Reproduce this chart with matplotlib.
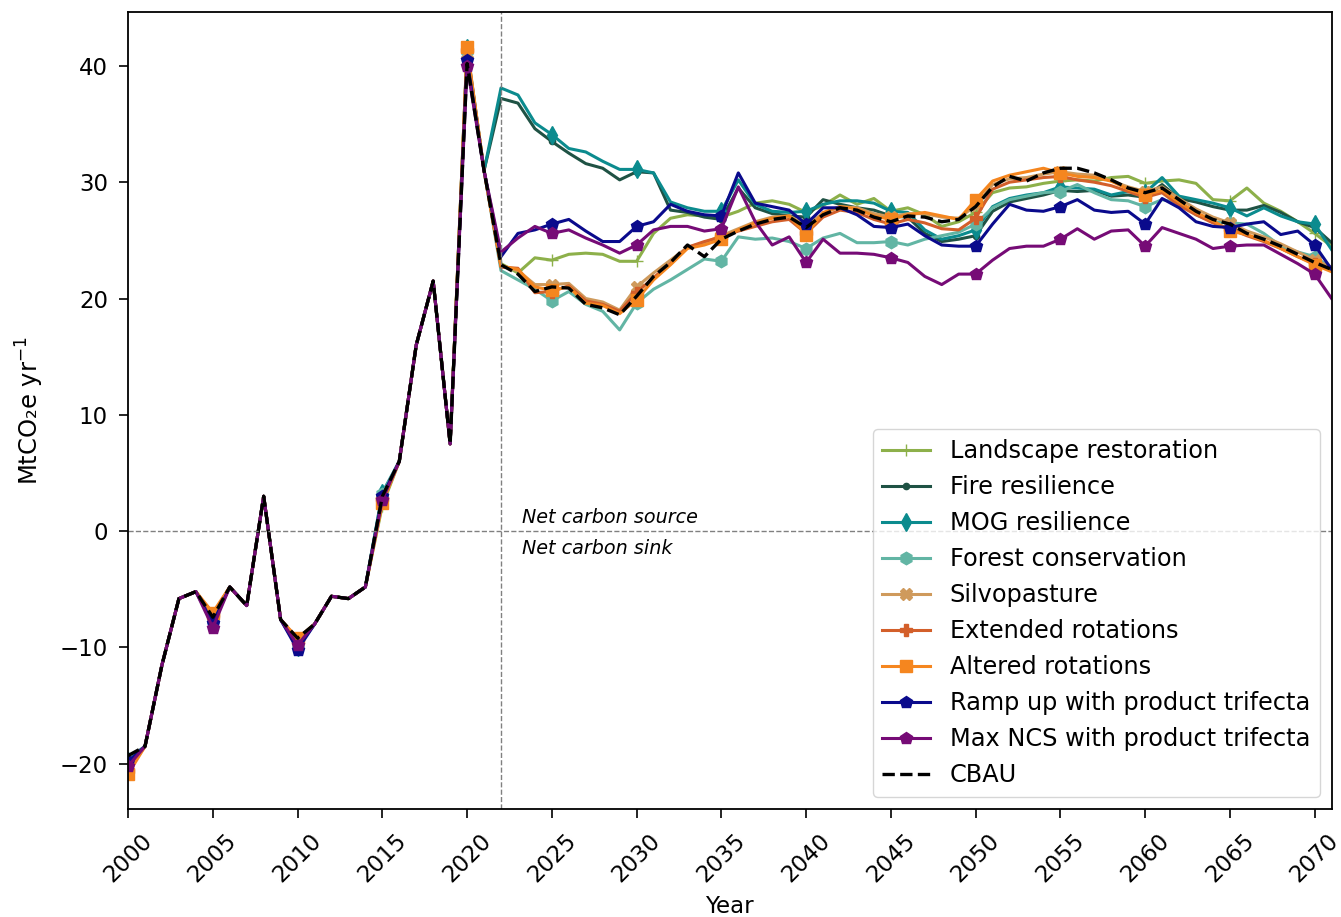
import numpy as np
import matplotlib
matplotlib.use('Agg')
import matplotlib.pyplot as plt

years = list(range(2000, 2072))

# shared history 2000-2021
hist = [-19.5, -18.5, -11.5, -5.8, -5.2, -7.5, -4.8, -6.4, 3.0, -7.6,
        -9.5, -8.0, -5.6, -5.8, -4.8, 3.0, 6.0, 16.0, 21.5, 7.5,
        40.5, 31.0]
# per-series values at 2000, 2005, 2010, 2015, 2020 (where they split a bit)
hist_marks = {
    'Landscape restoration':         [-20.0, -7.6, -9.6, 2.2, 40.8],
    'Fire resilience':               [-19.6, -7.4, -9.4, 3.0, 41.2],
    'MOG resilience':                [-19.8, -7.8, -10.0, 3.3, 41.5],
    'Forest conservation':           [-19.7, -7.6, -9.8, 3.2, 41.3],
    'Silvopasture':                  [-20.3, -7.3, -9.4, 2.6, 41.0],
    'Extended rotations':            [-20.6, -7.2, -9.3, 2.8, 41.4],
    'Altered rotations':             [-20.9, -7.0, -9.2, 2.4, 41.6],
    'Ramp up with product trifecta': [-19.8, -7.9, -10.2, 3.0, 40.5],
    'Max NCS with product trifecta': [-20.2, -8.3, -9.8, 2.7, 40.0],
    'CBAU':                          [-19.3, -7.4, -9.2, 3.0, 40.2],
}

# projections 2022-2071
landscape = [23.0, 22.2, 23.5, 23.3, 23.8, 23.9, 23.8, 23.2, 23.2, 25.6,
             26.9, 27.2, 27.1, 27.0, 27.5, 28.2, 28.4, 28.1, 27.4, 28.0,
             28.9, 28.1, 28.6, 27.5, 27.8, 27.2, 26.2, 26.6, 27.4, 29.1,
             29.5, 29.6, 29.9, 30.1, 30.2, 30.1, 30.4, 30.5, 29.9, 30.1,
             30.2, 29.9, 28.5, 28.4, 29.5, 28.2, 27.5, 26.6, 25.6, 24.5]
fire = [37.2, 36.8, 34.6, 33.5, 32.5, 31.6, 31.2, 30.2, 30.9, 30.8,
        27.6, 27.4, 27.0, 26.8, 29.5, 27.8, 27.3, 27.1, 27.0, 28.5,
        28.1, 27.8, 27.6, 27.1, 27.0, 25.6, 24.9, 25.1, 25.4, 27.5,
        28.3, 28.6, 28.9, 29.3, 29.2, 29.3, 28.8, 28.9, 28.7, 29.8,
        28.6, 28.3, 27.9, 27.6, 27.6, 28.0, 27.4, 26.6, 26.1, 24.8]
mog = [38.1, 37.5, 35.1, 34.1, 32.9, 32.6, 31.8, 31.1, 31.1, 30.8,
       28.3, 27.8, 27.5, 27.5, 30.2, 28.1, 27.5, 27.4, 27.5, 28.1,
       28.4, 28.4, 28.2, 27.5, 27.4, 25.9, 25.1, 25.4, 25.9, 27.9,
       28.6, 28.9, 29.1, 29.6, 29.5, 29.4, 28.9, 29.2, 29.1, 30.4,
       28.8, 28.5, 28.2, 27.8, 27.1, 27.8, 27.1, 26.6, 26.4, 24.2]
forest = [22.4, 21.6, 20.8, 19.8, 20.6, 19.5, 18.9, 17.3, 19.6, 20.8,
          21.6, 22.5, 23.4, 23.2, 25.3, 25.1, 25.2, 24.9, 24.3, 25.2,
          25.6, 24.8, 24.8, 24.9, 24.6, 25.1, 25.4, 25.7, 26.4, 27.8,
          28.5, 28.8, 29.1, 29.2, 29.8, 29.1, 28.5, 28.4, 27.9, 28.5,
          28.2, 27.2, 26.6, 26.5, 26.4, 25.6, 24.5, 24.0, 23.6, 22.6]
silvo = [22.8, 22.4, 21.2, 21.2, 21.3, 20.0, 19.7, 19.0, 21.0, 22.2,
         23.3, 24.4, 24.8, 25.4, 26.0, 26.6, 27.0, 27.1, 26.3, 27.3,
         27.9, 27.8, 27.3, 27.0, 27.3, 27.3, 27.0, 26.9, 28.0, 29.8,
         30.3, 30.4, 30.7, 30.9, 30.7, 30.6, 30.1, 29.6, 29.2, 29.6,
         28.6, 27.7, 27.0, 26.5, 25.8, 25.3, 24.7, 24.0, 23.3, 22.7]
extended = [22.7, 22.6, 20.5, 20.6, 21.1, 19.8, 19.5, 18.9, 20.5, 21.8,
            23.0, 24.4, 24.9, 25.3, 25.8, 26.2, 26.6, 26.8, 25.6, 27.0,
            27.6, 27.4, 26.8, 26.4, 26.8, 26.5, 26.0, 25.9, 26.9, 29.4,
            30.0, 30.2, 30.4, 30.5, 30.2, 30.0, 29.7, 29.2, 28.7, 29.1,
            28.0, 27.2, 26.5, 26.0, 25.4, 24.9, 24.3, 23.6, 23.0, 22.4]
altered = [22.8, 22.5, 21.0, 20.7, 21.0, 19.6, 19.4, 18.7, 19.9, 21.6,
           22.9, 24.3, 24.6, 25.1, 25.9, 26.5, 26.9, 27.1, 25.5, 27.4,
           27.9, 27.7, 27.1, 26.8, 27.2, 27.4, 27.1, 26.8, 28.5, 30.1,
           30.6, 30.9, 31.2, 30.8, 30.5, 30.4, 30.1, 29.4, 28.9, 29.3,
           28.3, 27.4, 26.7, 25.8, 25.5, 25.0, 24.3, 23.6, 22.9, 22.3]
rampup = [23.6, 25.6, 25.9, 26.4, 26.8, 25.8, 24.9, 24.9, 26.2, 26.6,
          28.1, 27.5, 27.2, 27.1, 30.8, 28.2, 27.9, 27.6, 26.4, 27.8,
          27.8, 27.2, 26.2, 26.1, 26.4, 25.4, 24.6, 24.5, 24.5, 26.4,
          28.1, 27.6, 27.5, 27.9, 28.5, 27.6, 27.4, 27.5, 26.4, 28.6,
          27.8, 26.6, 26.2, 26.1, 26.4, 26.6, 25.5, 25.8, 24.6, 22.5]
maxncs = [24.0, 25.2, 26.2, 25.6, 25.9, 25.2, 24.6, 23.9, 24.6, 25.9,
          26.2, 26.2, 25.8, 26.0, 29.6, 26.6, 24.6, 25.3, 23.1, 25.1,
          23.9, 23.9, 23.8, 23.5, 23.1, 21.9, 21.2, 22.1, 22.1, 23.3,
          24.3, 24.5, 24.5, 25.1, 26.0, 25.1, 25.8, 25.9, 24.5, 26.1,
          25.6, 25.1, 24.3, 24.5, 24.6, 24.6, 23.8, 23.0, 22.1, 20.0]
cbau = [22.9, 22.1, 20.6, 21.0, 20.9, 19.5, 19.2, 18.6, 20.2, 21.9,
        23.1, 24.6, 23.6, 25.1, 25.8, 26.4, 26.8, 27.0, 26.1, 27.2,
        27.8, 27.6, 27.0, 26.6, 27.1, 27.0, 26.6, 26.8, 27.9, 29.6,
        30.5, 30.1, 30.8, 31.2, 31.2, 30.8, 30.2, 29.5, 29.1, 29.5,
        28.5, 27.5, 26.8, 26.4, 25.6, 25.1, 24.5, 23.8, 23.1, 22.5]

names = ['Landscape restoration', 'Fire resilience', 'MOG resilience',
         'Forest conservation', 'Silvopasture', 'Extended rotations',
         'Altered rotations', 'Ramp up with product trifecta',
         'Max NCS with product trifecta']
series = [landscape, fire, mog, forest, silvo, extended, altered, rampup, maxncs]
colors = ['#8db04a', '#1f5244', '#0b8b8e', '#62b5a4', '#cf9a5c',
          '#d35f2a', '#f5861f', '#0a0a8c', '#760b76']
markers = ['+', '.', 'd', 'h', 'X', 'P', 's', 'p', 'p']


def full(name, proj):
    h = list(hist)
    for i, v in zip([0, 5, 10, 15, 20], hist_marks[name]):
        h[i] = v
    return h + proj


fig, ax = plt.subplots(figsize=(13.41, 9.17), dpi=100)
fig.subplots_adjust(left=0.0955, right=0.993, top=0.987, bottom=0.118)

for name, vals, c, m in zip(names, series, colors, markers):
    ax.plot(years, full(name, vals), color=c, marker=m, markevery=5,
            markersize=9, lw=2.2, label=name)
ax.plot(years, full('CBAU', cbau), color='black', ls='--', lw=2.4, label='CBAU')

ax.axhline(0, color='grey', ls='--', lw=1)
ax.axvline(2022, color='grey', ls='--', lw=1)
ax.text(2023.25, 1.2, 'Net carbon source', fontsize=13.8, style='italic', va='center')
ax.text(2023.25, -1.45, 'Net carbon sink', fontsize=13.8, style='italic', va='center')

ax.set_xlim(2000, 2071)
ax.set_ylim(-23.87, 44.64)
ax.set_xticks(range(2000, 2071, 5))
ax.tick_params(axis='x', labelrotation=45)
ax.tick_params(labelsize=16.5, length=6.5, width=1.2, pad=8)
for s in ax.spines.values():
    s.set_linewidth(1.3)
ax.set_xlabel('Year', fontsize=16.5, labelpad=6)
ax.set_ylabel('MtCO₂e yr$^{-1}$', fontsize=17.5, labelpad=10)
ax.legend(loc='lower right', fontsize=17.3)

fig.savefig('out.png')
